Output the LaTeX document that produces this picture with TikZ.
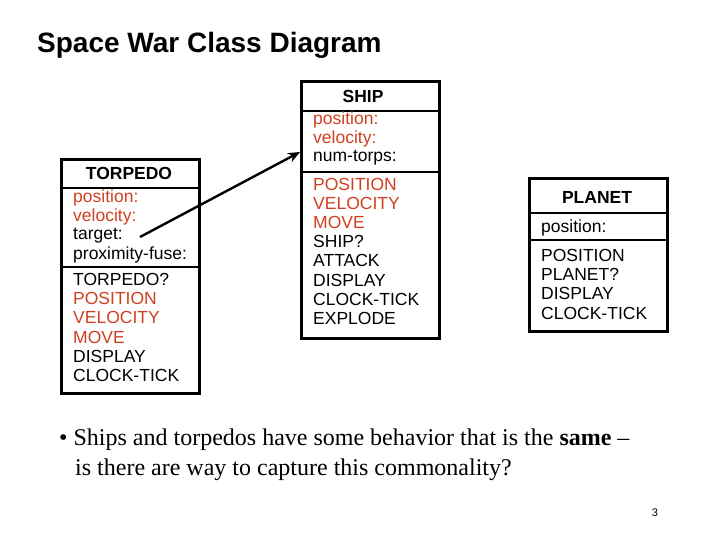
\documentclass[tikz,border=0pt]{standalone}
\usepackage{fontspec}
\usetikzlibrary{arrows.meta}
\setmainfont{Liberation Sans}
\newfontfamily\timesf{Liberation Serif}
\definecolor{attr}{HTML}{D04020}
\begin{document}
\begin{tikzpicture}[x=1pt,y=-1pt,
  box/.style={draw,line width=2.6pt,anchor=north west,inner sep=0},
  txt/.style={anchor=west,inner sep=0,font=\fontsize{17.5}{20}\selectfont},
  red/.style={txt,text=attr},
  hdr/.style={anchor=center,inner sep=0,font=\fontsize{17.5}{20}\selectfont\bfseries},
  div/.style={line width=2.6pt}]
\useasboundingbox (0,0) rectangle (720,540);
\node[anchor=west,inner sep=0,font=\fontsize{28}{32}\selectfont\bfseries] (title) at (37,45) {Space War Class Diagram};
% TORPEDO
\node[box,minimum width=138,minimum height=234] (torp) at (60,158) {};
\draw[div] (60,188) -- (198,188) (60,267) -- (198,267);
\node[hdr] (th) at (129,173) {TORPEDO};
\node[red] (t1) at (73,198) {position:};
\node[red] (t2) at (73,217) {velocity:};
\node[txt] (t3) at (73,236) {target:};
\node[txt] (t4) at (73,255) {proximity-fuse:};
\node[txt] (t5) at (73,279) {TORPEDO?};
\node[red] (t6) at (73,298) {POSITION};
\node[red] (t7) at (73,317) {VELOCITY};
\node[red] (t8) at (73,337) {MOVE};
\node[txt] (t9) at (73,356) {DISPLAY};
\node[txt] (t10) at (73,375) {CLOCK-TICK};
% SHIP
\node[box,minimum width=138,minimum height=257] (ship) at (300,80) {};
\draw[div] (300,111) -- (438,111) (300,172) -- (438,172);
\node[hdr] (sh) at (363,96) {SHIP};
\node[red] (s1) at (313,120) {position:};
\node[red] (s2) at (313,139) {velocity:};
\node[txt] (s3) at (313,158) {num-torps:};
\node[red] (s4) at (313,184) {POSITION};
\node[red] (s5) at (313,203) {VELOCITY};
\node[red] (s6) at (313,222) {MOVE};
\node[txt] (s7) at (313,241) {SHIP?};
\node[txt] (s8) at (313,260) {ATTACK};
\node[txt] (s9) at (313,280) {DISPLAY};
\node[txt] (s10) at (313,299) {CLOCK-TICK};
\node[txt] (s11) at (313,318) {EXPLODE};
% PLANET
\node[box,minimum width=138,minimum height=153] (planet) at (528,177) {};
\draw[div] (528,213) -- (666,213) (528,240) -- (666,240);
\node[hdr] (ph) at (597,197) {PLANET};
\node[txt] (p1) at (541,228) {position:};
\node[txt] (p2) at (541,255) {POSITION};
\node[txt] (p3) at (541,274) {PLANET?};
\node[txt] (p4) at (541,293) {DISPLAY};
\node[txt] (p5) at (541,313) {CLOCK-TICK};
% arrow
\coordinate (a0) at (140,237);
\coordinate (a1) at (300,152);
\draw[line width=2.4pt,-{Stealth[length=12pt,width=10pt]}] (a0) -- (a1);
% bullet
\node[anchor=west,inner sep=0,font=\timesf\fontsize{24}{30}\selectfont,align=left] (bul) at (59,455)
 {• Ships and torpedos have some behavior that is the \textbf{same} –\\
 \hspace*{16pt}is there are way to capture this commonality?};
\node[inner sep=0,font=\fontsize{11}{13}\selectfont] (pg) at (655,513) {3};
\end{tikzpicture}
\end{document}
